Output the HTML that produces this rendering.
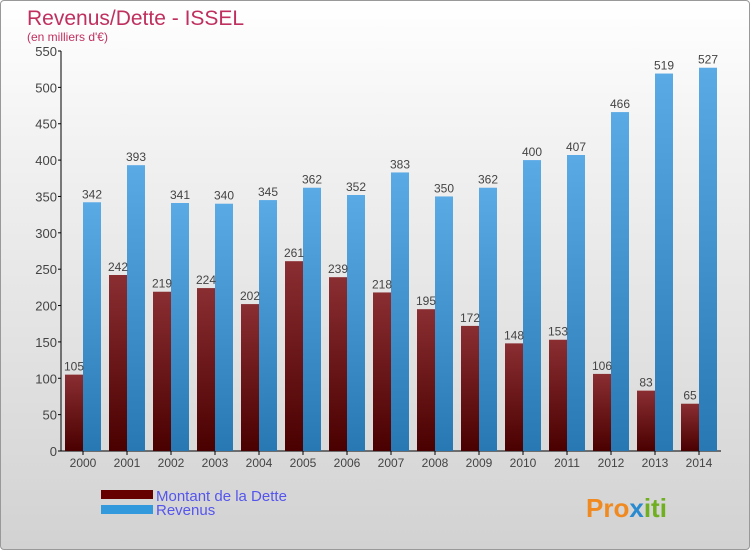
<!DOCTYPE html>
<html><head><meta charset="utf-8"><style>
body{margin:0}
#c{width:750px;height:550px;position:relative;overflow:hidden;font-family:"Liberation Sans",sans-serif;background:linear-gradient(#ffffff,#f0f0f0 30%,#d2d2d2);box-sizing:border-box;border:1px solid #999;border-radius:4px}
</style></head><body>
<div id="c">
<svg id="s" width="750" height="550" style="position:absolute;left:0;top:0">
<defs>
<linearGradient id="gd" x1="0" y1="0" x2="0" y2="1"><stop offset="0" stop-color="#8a2e32"/><stop offset="1" stop-color="#4a0000"/></linearGradient>
<linearGradient id="gr" x1="0" y1="0" x2="0" y2="1"><stop offset="0" stop-color="#5aaae6"/><stop offset="1" stop-color="#2878b4"/></linearGradient>
</defs>
<text x="26" y="24" font-size="21" fill="#c0305f">Revenus/Dette - ISSEL</text>
<text x="26" y="40" font-size="12" fill="#c0305f">(en milliers d'€)</text>
<g id="g"></g>
<rect x="100" y="489" width="52" height="9" fill="#660000"/>
<rect x="100" y="504" width="52" height="9" fill="#3399dd"/>
<text x="155" y="500" font-size="15" fill="#5555ee">Montant de la Dette</text>
<text x="155" y="514" font-size="15" fill="#5555ee">Revenus</text>
<text x="585" y="516" font-size="26" font-weight="bold" fill="#f08a20">Pro<tspan fill="#2a8ad0">x</tspan><tspan fill="#70b020">iti</tspan></text>
</svg>
</div>
<script>
const years=['2000','2001','2002','2003','2004','2005','2006','2007','2008','2009','2010','2011','2012','2013','2014'];
const dette=[105,242,219,224,202,261,239,218,195,172,148,153,106,83,65];
const revenus=[342,393,341,340,345,362,352,383,350,362,400,407,466,519,527];
const ticks=[0,50,100,150,200,250,300,350,400,450,500,550];
const NS='http://www.w3.org/2000/svg';
const g=document.getElementById('g');
const y=v=>450-v*400/550;
const x=i=>82+i*44;
function mk(t,a,txt){const e=document.createElementNS(NS,t);for(const k in a)e.setAttribute(k,a[k]);if(txt!=null)e.textContent=txt;g.appendChild(e);return e;}
let e=mk('line',{x1:60,y1:50,x2:60,y2:450,stroke:'#000'});


e=mk('line',{x1:60,y1:450,x2:720,y2:450,stroke:'#000'});


ticks.forEach(t=>{
 let l=mk('line',{x1:57,x2:60,y1:y(t),y2:y(t),stroke:'#000'});
 
 
 let tx=mk('text',{x:56,y:y(t)+5,'font-size':13,fill:'#444','text-anchor':'end'},t);
 
 
});
years.forEach((yr,i)=>{
 let cx=x(i);
 let l=mk('line',{x1:cx,x2:cx,y1:450,y2:454,stroke:'#000'});
 
 
 let t=mk('text',{x:cx,y:466,'font-size':12,fill:'#444','text-anchor':'middle'},yr);
 
 
 let b=mk('rect',{x:cx-18,y:y(dette[i]),width:18,height:450-y(dette[i]),fill:'url(#gd)'});
 
 
 let r=mk('rect',{x:cx,y:y(revenus[i]),width:18,height:450-y(revenus[i]),fill:'url(#gr)'});
 
 
 let dl=mk('text',{x:cx-9,y:y(dette[i])-4,'font-size':12,fill:'#444','text-anchor':'middle'},dette[i]);
 
 
 let rl=mk('text',{x:cx+9,y:y(revenus[i])-4,'font-size':12,fill:'#444','text-anchor':'middle'},revenus[i]);
 
 
});
</script>
</body></html>
